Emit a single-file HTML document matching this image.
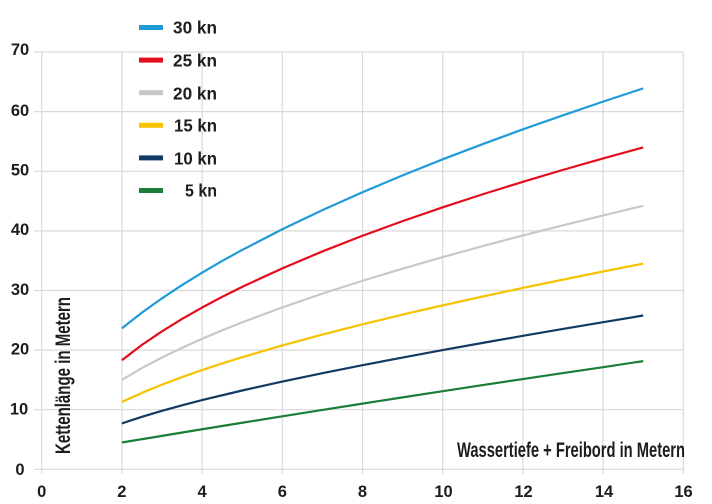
<!DOCTYPE html>
<html>
<head>
<meta charset="utf-8">
<style>
  html,body{margin:0;padding:0;background:#fff;}
  svg{display:block;}
  text{fill:#1d1d1b;}
  .num{font-family:"Liberation Sans",sans-serif;font-size:16.5px;font-weight:bold;}
  .lab{font-family:"Liberation Sans Narrow","Liberation Sans",sans-serif;font-weight:bold;}
</style>
</head>
<body>
<svg width="712" height="504" viewBox="0 0 712 504" xmlns="http://www.w3.org/2000/svg">
  <rect width="712" height="504" fill="#fff"/>
  <!-- grid -->
  <g stroke="#dadada" stroke-width="1.2" fill="none">
    <line x1="34" y1="469.3" x2="683.3" y2="469.3"/>
    <line x1="34" y1="409.7" x2="683.3" y2="409.7"/>
    <line x1="34" y1="350.1" x2="683.3" y2="350.1"/>
    <line x1="34" y1="290.5" x2="683.3" y2="290.5"/>
    <line x1="34" y1="230.9" x2="683.3" y2="230.9"/>
    <line x1="34" y1="171.3" x2="683.3" y2="171.3"/>
    <line x1="34" y1="111.6" x2="683.3" y2="111.6"/>
    <line x1="34" y1="52" x2="683.3" y2="52"/>
    <line x1="41.7" y1="52" x2="41.7" y2="474"/>
    <line x1="121.9" y1="52" x2="121.9" y2="474"/>
    <line x1="202.1" y1="52" x2="202.1" y2="474"/>
    <line x1="282.3" y1="52" x2="282.3" y2="474"/>
    <line x1="362.5" y1="52" x2="362.5" y2="474"/>
    <line x1="442.7" y1="52" x2="442.7" y2="474"/>
    <line x1="522.9" y1="52" x2="522.9" y2="474"/>
    <line x1="603.1" y1="52" x2="603.1" y2="474"/>
    <line x1="683.3" y1="52" x2="683.3" y2="474"/>
  </g>

  <!-- y labels -->
  <g class="num" text-anchor="middle">
    <text x="20" y="55">70</text>
    <text x="20" y="116">60</text>
    <text x="20" y="175.5">50</text>
    <text x="20" y="235.2">40</text>
    <text x="20" y="294.8">30</text>
    <text x="20" y="354.5">20</text>
    <text x="19" y="414.5">10</text>
    <text x="20" y="474.8">0</text>
  </g>
  <!-- x labels -->
  <g class="num" text-anchor="middle">
    <text x="41.7" y="497">0</text>
    <text x="121.9" y="497">2</text>
    <text x="202.1" y="497">4</text>
    <text x="282.3" y="497">6</text>
    <text x="362.5" y="497">8</text>
    <text x="443.5" y="497">10</text>
    <text x="523.5" y="497">12</text>
    <text x="604" y="497">14</text>
    <text x="683.5" y="497">16</text>
  </g>

  <!-- curves -->
  <g transform="translate(41.7,469.3) scale(40.1,-5.961)" fill="none" stroke-width="2.2" stroke-linejoin="round">
    <polyline vector-effect="non-scaling-stroke" stroke="#1f9bd7" points="2,23.65 2.5,26.29 3,28.69 3.5,30.91 4,32.99 4.5,34.95 5,36.80 6,40.27 7,43.48 8,46.48 9,49.31 10,52.0 11,54.56 12,57.03 13,59.39 14,61.68 15,63.9"/>
    <polyline vector-effect="non-scaling-stroke" stroke="#e30d1b" points="2,18.30 2.5,20.87 3,23.15 3.5,25.22 4,27.14 4.5,28.93 5,30.61 6,33.71 7,36.55 8,39.18 9,41.63 10,43.95 11,46.14 12,48.23 13,50.23 14,52.15 15,54.00"/>
    <polyline vector-effect="non-scaling-stroke" stroke="#c8c8c8" points="2,15.0 2.5,16.98 3,18.75 3.5,20.38 4,21.89 4.5,23.31 5,24.65 6,27.16 7,29.47 8,31.63 9,33.66 10,35.60 11,37.45 12,39.23 13,40.94 14,42.59 15,44.20"/>
    <polyline vector-effect="non-scaling-stroke" stroke="#f7c300" points="2,11.30 2.5,12.83 3,14.21 3.5,15.47 4,16.65 4.5,17.76 5,18.81 6,20.78 7,22.61 8,24.32 9,25.95 10,27.50 11,28.99 12,30.43 13,31.82 14,33.18 15,34.50"/>
    <polyline vector-effect="non-scaling-stroke" stroke="#123a63" points="2,7.70 2.5,8.81 3,9.81 3.5,10.74 4,11.61 5,13.22 6,14.72 7,16.13 8,17.47 9,18.75 10,20.00 11,21.21 12,22.39 13,23.55 14,24.68 15,25.80"/>
    <polyline vector-effect="non-scaling-stroke" stroke="#1b7d3a" points="2,4.5 3,5.61 4,6.72 5,7.81 6,8.89 7,9.96 8,11.02 9,12.07 10,13.1 11,14.13 12,15.14 13,16.14 14,17.13 15,18.15"/>
  </g>

  <!-- legend -->
  <g>
    <rect x="139" y="25" width="24" height="5" fill="#1f9bd7"/>
    <rect x="139" y="57.6" width="24" height="5" fill="#e30d1b"/>
    <rect x="139" y="90.2" width="24" height="5" fill="#c8c8c8"/>
    <rect x="139" y="122.8" width="24" height="5" fill="#f7c300"/>
    <rect x="139" y="155.4" width="24" height="5" fill="#123a63"/>
    <rect x="139" y="188" width="24" height="5" fill="#1b7d3a"/>
  </g>
  <g class="lab" font-size="17.5">
    <text x="173" y="33.3" textLength="44" lengthAdjust="spacingAndGlyphs">30 kn</text>
    <text x="173" y="66.5" textLength="44" lengthAdjust="spacingAndGlyphs">25 kn</text>
    <text x="173" y="99.3" textLength="44" lengthAdjust="spacingAndGlyphs">20 kn</text>
    <text x="174" y="131.7" textLength="43" lengthAdjust="spacingAndGlyphs">15 kn</text>
    <text x="174" y="164.3" textLength="43" lengthAdjust="spacingAndGlyphs">10 kn</text>
    <text x="185" y="196.7" textLength="32" lengthAdjust="spacingAndGlyphs">5 kn</text>
  </g>

  <!-- axis titles -->
  <text class="lab" font-size="21" x="457" y="457" textLength="228" lengthAdjust="spacingAndGlyphs">Wassertiefe + Freibord in Metern</text>
  <text class="lab" font-size="21" transform="translate(70,454) rotate(-90)" x="0" y="0" textLength="157" lengthAdjust="spacingAndGlyphs">Kettenlänge in Metern</text>
</svg>
</body>
</html>
